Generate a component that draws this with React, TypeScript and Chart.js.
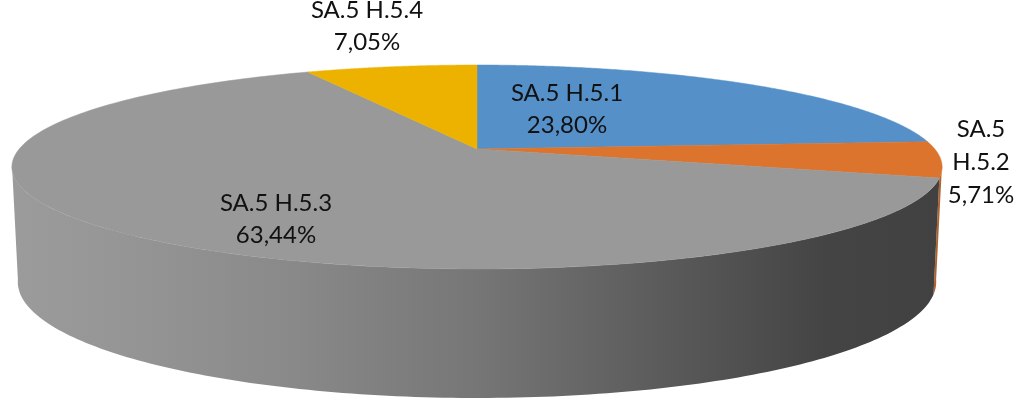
import React, { useEffect, useRef } from "react";
import { Chart, registerables } from "chart.js";

Chart.register(...registerables);

const categories = ["SA.5 H.5.1", "SA.5 H.5.2", "SA.5 H.5.3", "SA.5 H.5.4"];
const shareValues = [23.8, 5.71, 63.44, 7.05];
const sliceColors = ["#5590C8", "#DC742D", "#999999", "#EDB200"];
const labelLines = [["SA.5 H.5.1"], ["SA.5", "H.5.2"], ["SA.5 H.5.3"], ["SA.5 H.5.4"]];

// label anchors: centre x, first-line centre y
const labelAnchors = [
  [567, 93],
  [981, 129],
  [276, 203],
  [367, 10],
];

// Perspective projection of the unit disc on to the page
const CX = 477;
const TOP = { y0: 149, r: 457.8, a: 98.8, c: -0.1765 };
const BOTTOM = { y0: 261.5, r: 452, a: 112.4, c: -0.1765 };

type Face = typeof TOP;
const project = (f: Face, t: number): [number, number] => {
  const u = Math.cos(t);
  const v = Math.sin(t);
  const d = 1 + f.c * v;
  return [CX + (f.r * u) / d, f.y0 + (f.a * v) / d];
};

const wallStops: [number, string][] = [
  [0, "#9B9B9B"],
  [0.12, "#959595"],
  [0.3, "#898989"],
  [0.5, "#767676"],
  [0.7, "#5B5B5B"],
  [0.88, "#444444"],
  [1, "#414141"],
];

const pie3d = {
  id: "pie3d",
  beforeDatasetsDraw(chart: any) {
    const ctx: CanvasRenderingContext2D = chart.ctx;
    const arcs = chart.getDatasetMeta(0).data;
    const wallGrad = ctx.createLinearGradient(18, 0, 936, 0);
    wallStops.forEach(([o, c]) => wallGrad.addColorStop(o, c));

    // Visible wall of the disc: angles around the front edge
    const visFrom = Math.asin(0.1765) - 0.02;
    const visTo = Math.PI - visFrom;
    arcs.forEach((arc: any, i: number) => {
      const props = arc.getProps(["startAngle", "endAngle"], true);
      const from = Math.max(props.startAngle, visFrom);
      const to = Math.min(props.endAngle, visTo);
      if (to <= from) return;
      ctx.beginPath();
      const n = 160;
      for (let k = 0; k <= n; k++) {
        const [x, y] = project(TOP, from + ((to - from) * k) / n);
        k === 0 ? ctx.moveTo(x, y) : ctx.lineTo(x, y);
      }
      for (let k = n; k >= 0; k--) {
        const [x, y] = project(BOTTOM, from + ((to - from) * k) / n);
        ctx.lineTo(x, y);
      }
      ctx.closePath();
      ctx.fillStyle = i === 2 ? wallGrad : "#B0622A";
      ctx.fill();
    });

    // Top face
    arcs.forEach((arc: any) => {
      const props = arc.getProps(["startAngle", "endAngle"], true);
      ctx.beginPath();
      ctx.moveTo(CX, TOP.y0);
      const n = 200;
      for (let k = 0; k <= n; k++) {
        const t = props.startAngle + ((props.endAngle - props.startAngle) * k) / n;
        const [x, y] = project(TOP, t);
        ctx.lineTo(x, y);
      }
      ctx.closePath();
      ctx.fillStyle = arc.options.backgroundColor;
      ctx.fill();
      ctx.strokeStyle = arc.options.backgroundColor;
      ctx.lineWidth = 0.5;
      ctx.stroke();
    });
    return false;
  },
  afterDraw(chart: any) {
    const ctx: CanvasRenderingContext2D = chart.ctx;
    ctx.save();
    ctx.font = '24px Lato, "Open Sans", sans-serif';
    ctx.fillStyle = "#111111";
    ctx.textAlign = "center";
    ctx.textBaseline = "middle";
    const values = chart.data.datasets[0].data as number[];
    values.forEach((v, i) => {
      const lines = [...labelLines[i], v.toFixed(2).replace(".", ",") + "%"];
      const [x, y] = labelAnchors[i];
      const lh = i === 1 ? 33 : 32;
      lines.forEach((line, j) => ctx.fillText(line, x, y + j * lh));
    });
    ctx.restore();
  },
};

export default function App() {
  const ref = useRef<HTMLCanvasElement>(null);
  useEffect(() => {
    const chart = new Chart(ref.current!, {
      type: "pie",
      data: {
        labels: categories,
        datasets: [{ data: shareValues, backgroundColor: sliceColors, borderWidth: 0 }],
      },
      options: {
        responsive: false,
        animation: false,
        plugins: { legend: { display: false }, tooltip: { enabled: false } },
      },
      plugins: [pie3d],
    } as any);
    return () => chart.destroy();
  }, []);
  return (
    <div style={{ position: "fixed", left: 0, top: 0, background: "#fff" }}>
      <canvas ref={ref} width={1018} height={403} style={{ display: "block" }} />
    </div>
  );
}
